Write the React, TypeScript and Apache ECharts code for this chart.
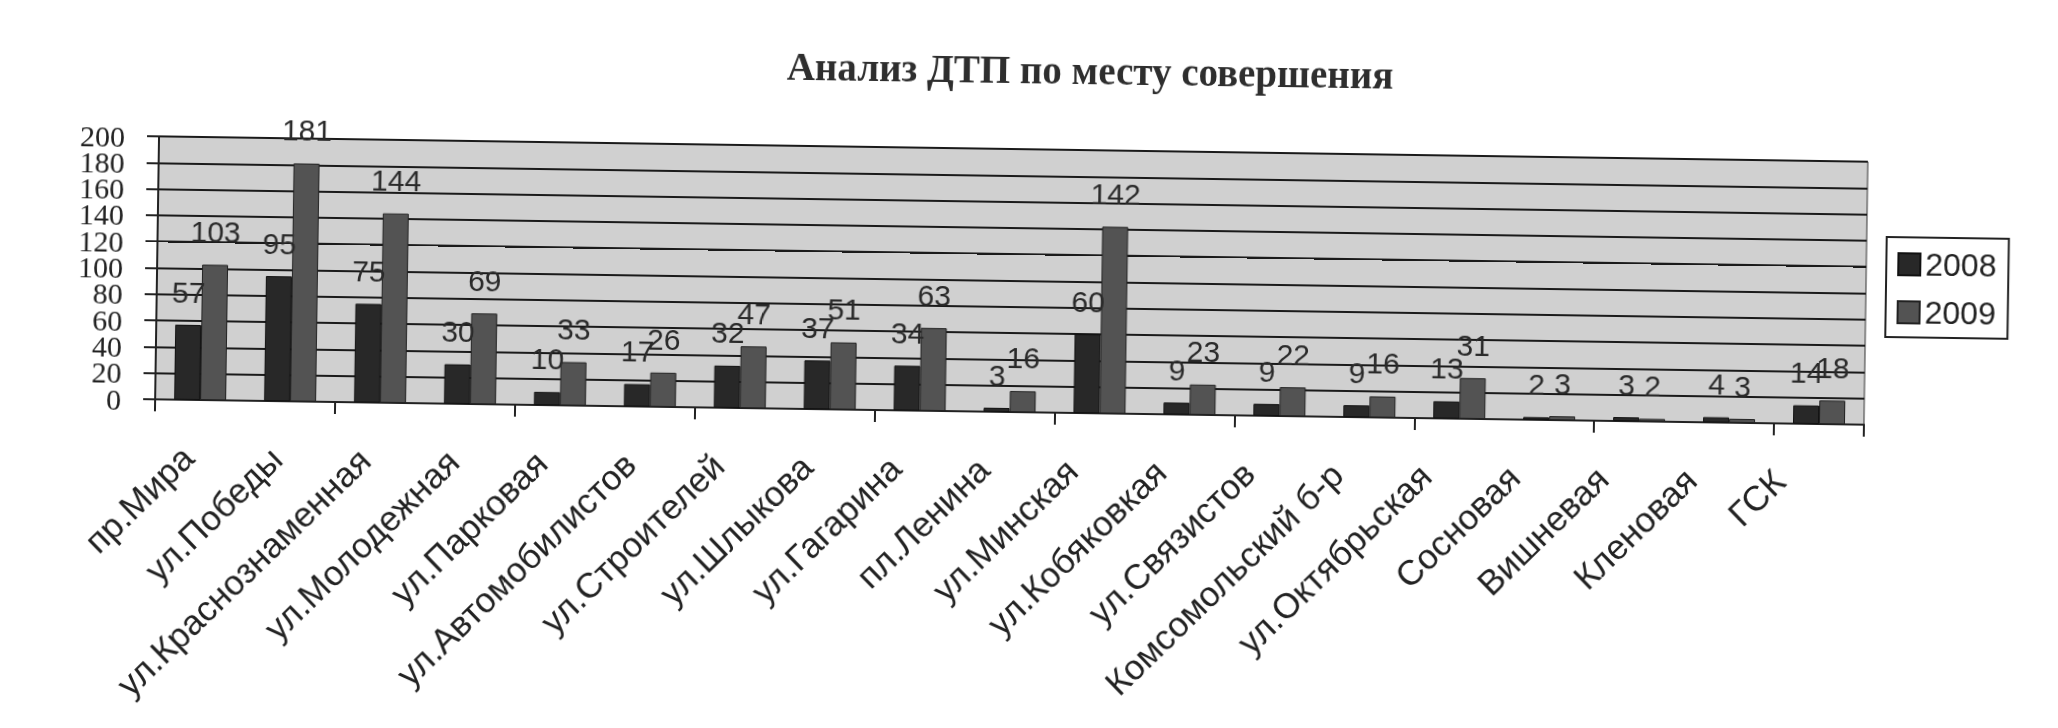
import React, { useEffect, useRef } from "react";
import * as echarts from "echarts";

const titleText = "Анализ ДТП по месту совершения";
const categories = [
  "пр.Мира",
  "ул.Победы",
  "ул.Краснознаменная",
  "ул.Молодежная",
  "ул.Парковая",
  "ул.Автомобилистов",
  "ул.Строителей",
  "ул.Шлыкова",
  "ул.Гагарина",
  "пл.Ленина",
  "ул.Минская",
  "ул.Кобяковкая",
  "ул.Связистов",
  "Комсомольский б-р",
  "ул.Октябрьская",
  "Сосновая",
  "Вишневая",
  "Кленовая",
  "ГСК",
];
const values2008 = [57, 95, 75, 30, 10, 17, 32, 37, 34, 3, 60, 9, 9, 9, 13, 2, 3, 4, 14];
const values2009 = [103, 181, 144, 69, 33, 26, 47, 51, 63, 16, 142, 23, 22, 16, 31, 3, 2, 3, 18];
const seriesNames = ["2008", "2009"];
const yTicks = { min: 0, max: 200, interval: 20 };

// plot geometry (pixels)
const plot = { left: 157, right: 192, top: 149, bottom: 316 };
const stepPx = (728 - plot.top - plot.bottom) / ((yTicks.max - yTicks.min) / yTicks.interval);

export default function App() {
  const ref = useRef<HTMLDivElement>(null);
  useEffect(() => {
    if (!ref.current) return;
    const chart = echarts.init(ref.current, undefined, { renderer: "svg" });
    const labelStyle = {
      show: true,
      position: "top" as const,
      distance: 18,
      fontFamily: "Liberation Sans, Arial, sans-serif",
      fontSize: 30,
      color: "#2a2a2a",
    };
    const yLabelFont = {
      fontFamily: "Liberation Serif, Times New Roman, serif",
      fontSize: 30,
      color: "#222",
    };
    chart.setOption({
      animation: false,
      backgroundColor: "#ffffff",
      title: {
        text: titleText,
        left: 1082,
        top: 45,
        textAlign: "center",
        textStyle: {
          fontFamily: "Liberation Serif, Times New Roman, serif",
          fontWeight: "bold",
          fontSize: 39,
          color: "#2e2e2e",
        },
      },
      legend: {
        orient: "vertical",
        left: 1886,
        top: 224,
        data: seriesNames,
        icon: "rect",
        itemWidth: 22,
        itemHeight: 22,
        itemGap: 16,
        padding: [11, 12, 9, 11],
        borderColor: "#222",
        borderWidth: 2,
        textStyle: {
          fontFamily: "Liberation Sans, Arial, sans-serif",
          fontSize: 32,
          color: "#222",
        },
      },
      grid: [
        {
          left: plot.left,
          right: plot.right,
          top: plot.top,
          bottom: plot.bottom,
          show: true,
          backgroundColor: "#d0d0d0",
          borderColor: "#333",
          borderWidth: 1,
        },
        {
          left: 146,
          right: 232,
          top: plot.top,
          bottom: plot.bottom,
          show: false,
        },
        {
          left: plot.left,
          right: plot.right,
          top: plot.top - stepPx,
          bottom: plot.bottom - stepPx,
          show: false,
        },
      ],
      xAxis: [
        {
          type: "category",
          gridIndex: 0,
          data: categories,
          axisLine: { show: true, lineStyle: { color: "#222", width: 2 } },
          axisTick: { show: true, length: 12, lineStyle: { color: "#222", width: 2 } },
          axisLabel: { show: false },
        },
        {
          type: "category",
          gridIndex: 1,
          data: categories,
          axisLine: { show: false },
          axisTick: { show: false },
          axisLabel: {
            interval: 0,
            rotate: 45,
            margin: 52,
            hideOverlap: false,
            fontFamily: "Liberation Sans, Arial, sans-serif",
            fontSize: 35,
            color: "#222",
          },
        },
        {
          type: "category",
          gridIndex: 2,
          data: categories,
          show: false,
        },
      ],
      yAxis: [
        {
          type: "value",
          gridIndex: 0,
          min: yTicks.min,
          max: yTicks.max,
          interval: yTicks.interval,
          axisLine: { show: true, lineStyle: { color: "#222", width: 2 } },
          axisTick: { show: true, length: 12, lineStyle: { color: "#222", width: 2 } },
          splitLine: { show: true, lineStyle: { color: "#1a1a1a", width: 2 } },
          axisLabel: {
            margin: 34,
            showMinLabel: true,
            showMaxLabel: true,
            hideOverlap: false,
            formatter: (v: number) => (v % (2 * yTicks.interval) === 0 ? String(v) : ""),
            ...yLabelFont,
          },
        },
        {
          type: "value",
          gridIndex: 1,
          min: yTicks.min,
          max: yTicks.max,
          interval: yTicks.interval,
          show: false,
        },
        {
          type: "value",
          gridIndex: 2,
          min: yTicks.min - yTicks.interval,
          max: yTicks.max + yTicks.interval,
          interval: 2 * yTicks.interval,
          axisLine: { show: false },
          axisTick: { show: false },
          splitLine: { show: false },
          axisLabel: {
            margin: 34,
            showMinLabel: false,
            showMaxLabel: false,
            formatter: (v: number) => (v < yTicks.min || v > yTicks.max ? "" : String(v)),
            ...yLabelFont,
          },
        },
      ],
      series: [
        {
          name: seriesNames[0],
          type: "bar",
          data: values2008,
          barWidth: 26,
          barGap: "0%",
          itemStyle: { color: "#282828", borderColor: "#111", borderWidth: 1 },
          label: labelStyle,
        },
        {
          name: seriesNames[1],
          type: "bar",
          data: values2009,
          barWidth: 26,
          barGap: "0%",
          itemStyle: { color: "#535353", borderColor: "#222", borderWidth: 1 },
          label: labelStyle,
        },
      ],
    });
    return () => chart.dispose();
  }, []);
  return (
    <div
      ref={ref}
      style={{
        position: "fixed",
        left: 0,
        top: 0,
        width: 2058,
        height: 728,
        transform: "rotate(0.85deg)",
        transformOrigin: "1010px 280px",
      }}
    />
  );
}
